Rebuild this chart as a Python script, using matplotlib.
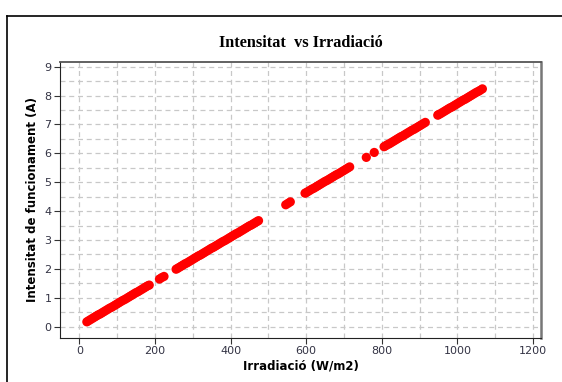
import matplotlib
matplotlib.use("Agg")
from matplotlib import pyplot as plt
from matplotlib.lines import Line2D
from matplotlib.ticker import MultipleLocator

# irradiance (W/m2) and operating current (A) readings
irradiance = [20, 25, 30, 35, 40, 45, 50, 55, 60, 65, 70, 75, 80, 85, 90, 95,
              100, 105, 110, 115, 120, 125, 130, 135, 140, 145, 150, 155, 160, 165,
              170, 175, 180, 185,
              212, 218, 224,
              256, 260, 265, 270, 275, 280, 285, 290, 295, 300, 305, 310, 315,
              320, 325, 330, 335, 340, 345, 350, 355, 360, 365, 370, 375, 380, 385,
              390, 395, 400, 405, 410, 415, 420, 425, 430, 435, 440, 445, 450, 455,
              460, 465, 470, 474,
              546, 552, 558,
              597, 600, 605, 610, 615, 620, 625, 630, 635, 640, 645, 650, 655,
              660, 665, 670, 675, 680, 685, 690, 695, 700, 705, 710, 715,
              759, 780,
              806, 810, 815, 820, 825, 830, 835, 840, 845, 850, 855, 860,
              865, 870, 875, 880, 885, 890, 895, 900, 905, 910, 915,
              948, 950, 955, 960, 965, 970, 975, 980, 985, 990, 995, 1000, 1005,
              1010, 1015, 1020, 1025, 1030, 1035, 1040, 1045, 1050, 1055, 1060, 1066]
current = [0.17, 0.21, 0.25, 0.29, 0.33, 0.37, 0.41, 0.44, 0.48, 0.52, 0.56, 0.60, 0.64, 0.67, 0.71, 0.75,
           0.79, 0.83, 0.87, 0.91, 0.94, 0.98, 1.02, 1.06, 1.10, 1.14, 1.18, 1.21, 1.25, 1.29,
           1.33, 1.37, 1.41, 1.44,
           1.65, 1.70, 1.74,
           1.99, 2.02, 2.06, 2.10, 2.14, 2.18, 2.21, 2.25, 2.29, 2.33, 2.37, 2.41, 2.45,
           2.48, 2.52, 2.56, 2.60, 2.64, 2.68, 2.72, 2.75, 2.79, 2.83, 2.87, 2.91, 2.95, 2.98,
           3.02, 3.06, 3.10, 3.14, 3.18, 3.22, 3.25, 3.29, 3.33, 3.37, 3.41, 3.45, 3.49, 3.52,
           3.56, 3.60, 3.64, 3.67,
           4.22, 4.27, 4.32,
           4.62, 4.64, 4.68, 4.72, 4.76, 4.79, 4.83, 4.87, 4.91, 4.95, 4.99, 5.03, 5.06,
           5.10, 5.14, 5.18, 5.22, 5.26, 5.29, 5.33, 5.37, 5.41, 5.45, 5.49, 5.53,
           5.86, 6.03,
           6.23, 6.26, 6.30, 6.33, 6.37, 6.41, 6.45, 6.49, 6.53, 6.57, 6.60, 6.64,
           6.68, 6.72, 6.76, 6.80, 6.83, 6.87, 6.91, 6.95, 6.99, 7.03, 7.07,
           7.32, 7.34, 7.37, 7.41, 7.45, 7.49, 7.53, 7.57, 7.60, 7.64, 7.68, 7.72, 7.76,
           7.80, 7.84, 7.87, 7.91, 7.95, 7.99, 8.03, 8.07, 8.11, 8.14, 8.18, 8.23]

W, H = 562, 382
fig = plt.figure(figsize=(W / 100, H / 100), dpi=100)
ax = fig.add_axes([60 / W, (H - 338) / H, 481 / W, 276 / H])

ax.scatter(irradiance, current, s=44, color="#ff0000", edgecolors="none", zorder=3)

ax.set_xlim(-51, 1221)
ax.set_ylim(-0.39, 9.16)
ax.xaxis.set_major_locator(MultipleLocator(200))
ax.xaxis.set_minor_locator(MultipleLocator(100))
ax.yaxis.set_major_locator(MultipleLocator(1))
ax.yaxis.set_minor_locator(MultipleLocator(0.5))

for which in ("major", "minor"):
    ax.grid(True, which=which, color="#c8c8c8", linestyle=(0, (4, 3)), linewidth=0.9, zorder=0)

ax.tick_params(which="major", direction="out", length=4, width=0.8, color="#333333",
               labelsize=8, labelcolor="#333344", pad=2)
ax.tick_params(which="minor", length=0)

ax.spines["left"].set_color("#222222")
ax.spines["bottom"].set_color("#222222")
ax.spines["top"].set_color("#555555")
ax.spines["top"].set_linewidth(1.3)
ax.spines["right"].set_color("#777777")
ax.spines["right"].set_linewidth(1.8)

ax.set_title("Intensitat  vs Irradiació", fontfamily="Liberation Serif", fontweight="bold",
             fontsize=11.7, pad=11)
ax.set_xlabel("Irradiació (W/m2)", fontweight="bold", fontsize=8.5, labelpad=2)
ax.set_ylabel("Intensitat de funcionament (A)", fontweight="bold", fontsize=8.5, labelpad=4)

# outer frame around the chart
fig.add_artist(Line2D([7 / W, 7 / W], [0, 1 - 16 / H], color="black", linewidth=1.2))
fig.add_artist(Line2D([7 / W, 1], [1 - 16 / H, 1 - 16 / H], color="black", linewidth=1.2))

fig.savefig("out.png", dpi=100)
